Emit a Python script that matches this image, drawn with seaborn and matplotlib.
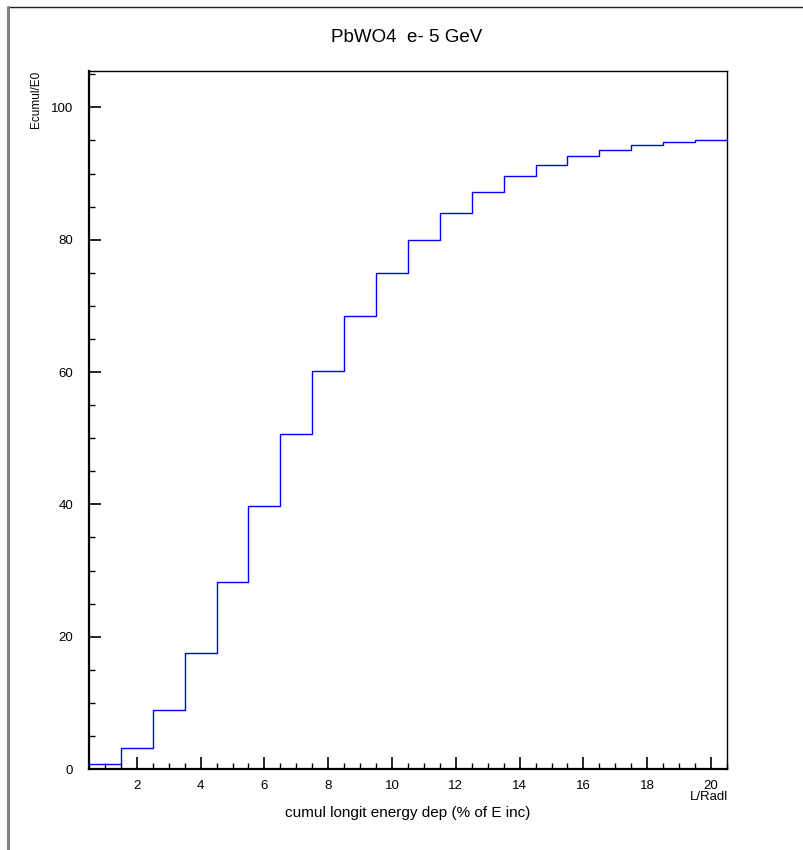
import numpy as np
import pandas as pd
import matplotlib
matplotlib.use("Agg")
import matplotlib.pyplot as plt
from matplotlib.ticker import MultipleLocator
from matplotlib.lines import Line2D
import seaborn as sns

# ---- data ----
depth_bins = [1, 2, 3, 4, 5, 6, 7, 8, 9, 10, 11, 12, 13, 14, 15, 16, 17, 18, 19, 20]
ecumul = [0.8, 3.2, 8.9, 17.5, 28.3, 39.7, 50.6, 60.2, 68.5, 75.0,
          80.0, 84.1, 87.2, 89.7, 91.3, 92.6, 93.5, 94.3, 94.8, 95.1]
bin_edges = [0.5 + i for i in range(21)]
x_major = [2, 4, 6, 8, 10, 12, 14, 16, 18, 20]
y_major = [0, 20, 40, 60, 80, 100]
title = "PbWO4  e- 5 GeV"
xlabel = "cumul longit energy dep (% of E inc)"
ylabel = "Ecumul/E0"
x_unit = "L/Radl"

sns.set_style("ticks")
plt.rcParams["font.family"] = ["Liberation Sans", "DejaVu Sans"]
plt.rcParams["text.color"] = "black"
plt.rcParams["axes.labelcolor"] = "black"
plt.rcParams["axes.edgecolor"] = "black"
plt.rcParams["xtick.color"] = "black"
plt.rcParams["ytick.color"] = "black"

W, H = 804, 850
fig = plt.figure(figsize=(W / 100, H / 100), dpi=100)
ax = fig.add_axes([89 / W, 1 - 769 / H, (727 - 89) / W, (769 - 71) / H])

df = pd.DataFrame({"L": depth_bins, "E": ecumul})
sns.histplot(data=df, x="L", weights="E", bins=bin_edges, element="step",
             fill=False, color="#0000ff", linewidth=1.0, ax=ax)

ax.set_xlim(0.5, 20.5)
ax.set_ylim(0, 105.5)
ax.set_xticks(x_major)
ax.set_yticks(y_major)
ax.xaxis.set_minor_locator(MultipleLocator(0.5))
ax.yaxis.set_minor_locator(MultipleLocator(5))
ax.tick_params(which="both", direction="in", colors="black", labelcolor="black", labelsize=9.5)
ax.tick_params(which="major", length=8.6, width=1.2)
ax.tick_params(which="minor", length=4.3, width=1.0)
ax.tick_params(axis="x", which="major", pad=8)
ax.tick_params(axis="y", which="major", pad=11.5)
for side in ["left", "bottom"]:
    ax.spines[side].set_linewidth(1.6)
    ax.spines[side].set_color("black")
for side in ["right", "top"]:
    ax.spines[side].set_linewidth(1.0)
    ax.spines[side].set_color("black")
    ax.spines[side].set_visible(True)

ax.set_xlabel(xlabel, fontsize=11, color="black")
ax.xaxis.set_label_coords(0.5, -(813 - 769) / (769 - 71))
ax.xaxis.label.set_va("center")
ax.set_ylabel(ylabel, fontsize=8.5, loc="top", color="black")
ax.yaxis.set_label_coords((42 - 89) / (727 - 89), 1.0)

fig.text(407 / W, 1 - 37 / H, title, ha="center", va="center", fontsize=13.5, color="black")
fig.text(728 / W, 1 - 791 / H, x_unit, ha="right", va="top", fontsize=9.5, color="black")

# canvas bevel border
fig.add_artist(Line2D([9 / W, 1.0], [1 - 7 / H, 1 - 7 / H], transform=fig.transFigure,
                      color="#222222", linewidth=1.0))
fig.add_artist(Line2D([8 / W, 8 / W], [0.0, 1 - 7 / H], transform=fig.transFigure,
                      color="#808080", linewidth=2.2))

fig.savefig("out.png", dpi=100)
